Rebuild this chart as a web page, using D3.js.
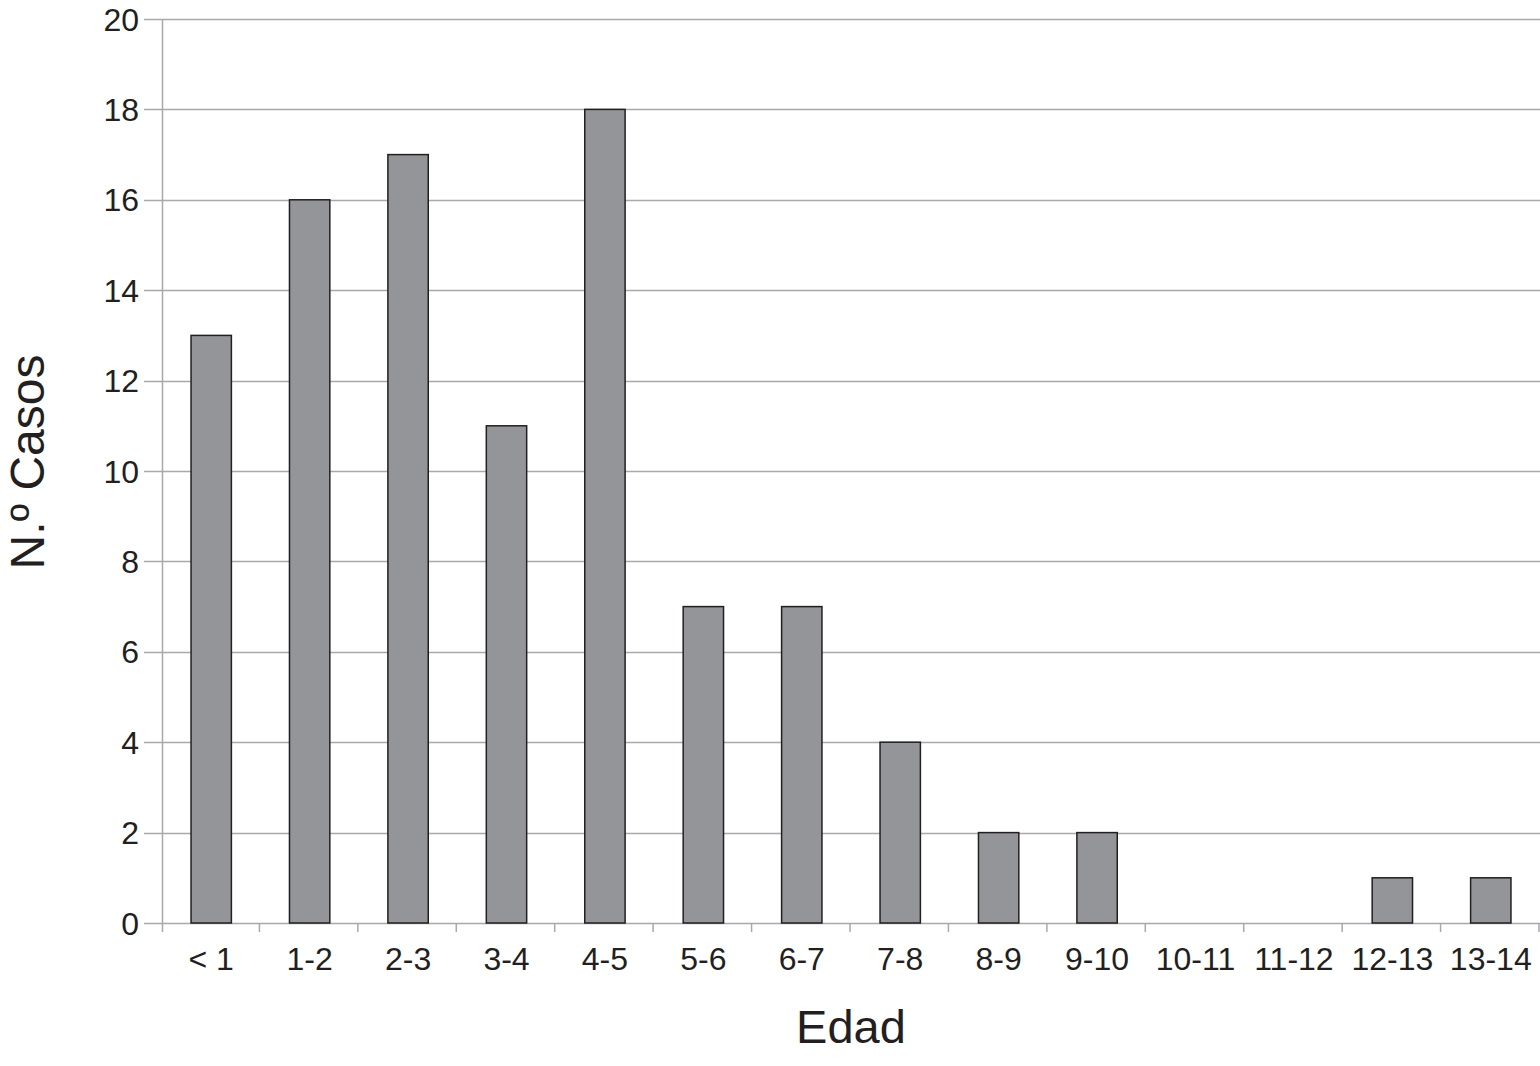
<!DOCTYPE html>
<html>
<head>
<meta charset="utf-8">
<script src="https://cdn.jsdelivr.net/npm/d3@7"></script>
<style>
  body { margin: 0; background: #fff; }
  text { font-family: "Liberation Sans", Arial, sans-serif; fill: #231f20; }
</style>
</head>
<body>
<script>
const width = 1540;
const height = 1066;

// data
const ageGroups = ["< 1", "1-2", "2-3", "3-4", "4-5", "5-6", "6-7", "7-8", "8-9", "9-10", "10-11", "11-12", "12-13", "13-14"];
const cases = [13, 16, 17, 11, 18, 7, 7, 4, 2, 2, 0, 0, 1, 1];
const yTicks = [0, 2, 4, 6, 8, 10, 12, 14, 16, 18, 20];

const margin = { top: 19, right: 0, bottom: 143, left: 162 };

const svg = d3.select("body").append("svg")
  .attr("width", width)
  .attr("height", height);

const x = d3.scaleBand()
  .domain(ageGroups)
  .range([margin.left, width - margin.right])
  .paddingInner(0.59)
  .paddingOuter(0.295);

const y = d3.scaleLinear()
  .domain([0, 20])
  .range([height - margin.bottom, margin.top]);

// horizontal gridlines
svg.append("g")
  .selectAll("line")
  .data(yTicks)
  .join("line")
  .attr("x1", margin.left - 18)
  .attr("x2", width)
  .attr("y1", d => Math.round(y(d)) + 0.5)
  .attr("y2", d => Math.round(y(d)) + 0.5)
  .attr("stroke", "#a7a9ac")
  .attr("stroke-width", 1.5);

// y labels
svg.append("g")
  .selectAll("text")
  .data(yTicks)
  .join("text")
  .attr("x", margin.left - 23)
  .attr("y", d => y(d))
  .attr("dy", "0.36em")
  .attr("text-anchor", "end")
  .attr("font-size", 32)
  .text(d => d);

// y axis line
svg.append("line")
  .attr("x1", margin.left + 0.5)
  .attr("x2", margin.left + 0.5)
  .attr("y1", y(20))
  .attr("y2", y(0) + 9)
  .attr("stroke", "#a7a9ac")
  .attr("stroke-width", 1.5);

// category boundary ticks
const bounds = d3.range(ageGroups.length + 1).map(i => margin.left + i * (width - margin.left - margin.right) / ageGroups.length);
svg.append("g")
  .selectAll("line")
  .data(bounds.slice(1))
  .join("line")
  .attr("x1", d => d - 1)
  .attr("x2", d => d - 1)
  .attr("y1", y(0))
  .attr("y2", y(0) + 9)
  .attr("stroke", "#a7a9ac")
  .attr("stroke-width", 1.5);

// bars
svg.append("g")
  .selectAll("rect")
  .data(ageGroups.map((g, i) => ({ g, v: cases[i] })).filter(d => d.v > 0))
  .join("rect")
  .attr("x", d => x(d.g))
  .attr("y", d => y(d.v))
  .attr("width", x.bandwidth())
  .attr("height", d => y(0) - y(d.v))
  .attr("fill", "#939598")
  .attr("stroke", "#231f20")
  .attr("stroke-width", 1.5);

// x labels
svg.append("g")
  .selectAll("text")
  .data(ageGroups)
  .join("text")
  .attr("x", d => x(d) + x.bandwidth() / 2)
  .attr("y", y(0) + 47)
  .attr("text-anchor", "middle")
  .attr("font-size", 32)
  .text(d => d);

// axis titles
svg.append("text")
  .attr("x", 851)
  .attr("y", 1043)
  .attr("text-anchor", "middle")
  .attr("font-size", 47)
  .text("Edad");

svg.append("text")
  .attr("transform", "translate(44,462) rotate(-90)")
  .attr("text-anchor", "middle")
  .attr("font-size", 48)
  .text("N.º Casos");
</script>
</body>
</html>
